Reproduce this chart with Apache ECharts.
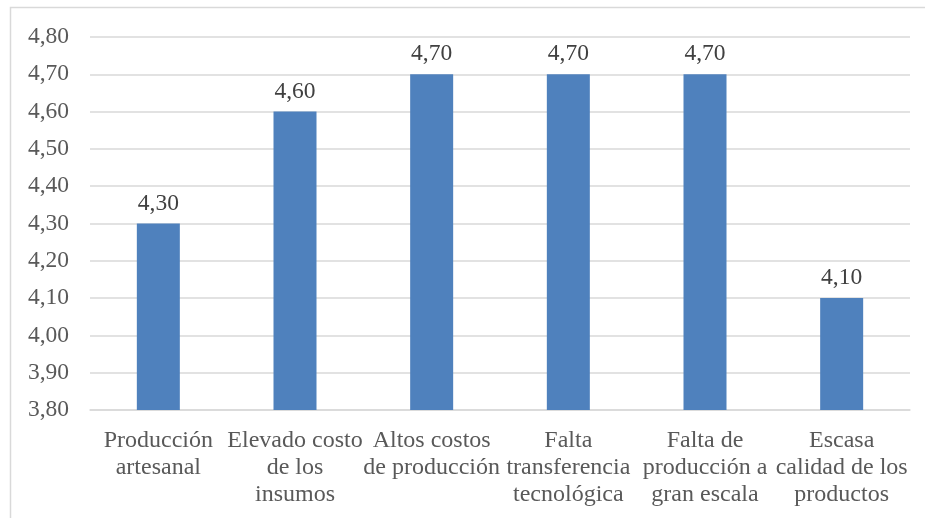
<!DOCTYPE html>
<html>
<head>
<meta charset="utf-8">
<script src="https://cdn.jsdelivr.net/npm/echarts@6/dist/echarts.min.js"></script>
<style>
  html, body { margin: 0; padding: 0; background: #fff; }
  #chart { width: 925px; height: 518px; }
</style>
</head>
<body>
<div id="chart"></div>
<script>
// Problem categories (line breaks as they wrap under each bar)
const categories = [
  'Producción\nartesanal',
  'Elevado costo\nde los\ninsumos',
  'Altos costos\nde producción',
  'Falta\ntransferencia\ntecnológica',
  'Falta de\nproducción a\ngran escala',
  'Escasa\ncalidad de los\nproductos'
];
// Mean scores
const values = [4.30, 4.60, 4.70, 4.70, 4.70, 4.10];
// Value axis range
const yMin = 3.80;
const yMax = 4.80;
const yStep = 0.10;

const fmt = v => Number(v).toFixed(2).replace('.', ',');
const fontFamily = 'Liberation Serif';

const chart = echarts.init(document.getElementById('chart'));
chart.setOption({
  animation: false,
  textStyle: { fontFamily: fontFamily },
  graphic: [{
    type: 'rect',
    shape: { x: 10.5, y: 7.5, width: 960, height: 560 },
    style: { fill: 'none', stroke: '#d9d9d9', lineWidth: 1.5 },
    silent: true
  }],
  grid: { left: 90, right: 15, top: 37, bottom: 108 },
  xAxis: {
    type: 'category',
    data: categories,
    axisLine: { show: true, lineStyle: { color: '#d9d9d9', width: 1.5 } },
    axisTick: { show: false },
    axisLabel: {
      interval: 0,
      color: '#595959',
      fontSize: 24,
      lineHeight: 27,
      margin: 17,
      fontFamily: fontFamily
    }
  },
  yAxis: {
    type: 'value',
    min: yMin,
    max: yMax,
    interval: yStep,
    axisLine: { show: false },
    axisTick: { show: false },
    splitLine: { lineStyle: { color: '#d9d9d9', width: 1.5 } },
    axisLabel: {
      color: '#595959',
      fontSize: 23.5,
      margin: 21,
      fontFamily: fontFamily,
      formatter: fmt
    }
  },
  series: [{
    type: 'bar',
    data: values,
    barWidth: 43,
    itemStyle: { color: '#4f81bd' },
    label: {
      show: true,
      position: 'top',
      distance: 8,
      color: '#404040',
      fontSize: 23.5,
      fontFamily: fontFamily,
      formatter: p => fmt(p.value)
    }
  }]
});
</script>
</body>
</html>
